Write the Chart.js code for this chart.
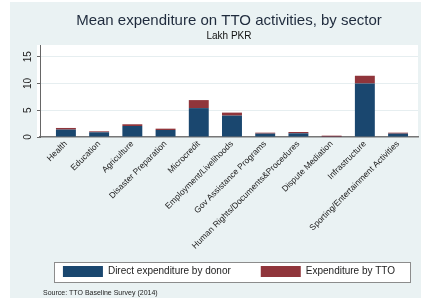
<!DOCTYPE html>
<html>
<head>
<meta charset="utf-8">
<script src="https://cdn.jsdelivr.net/npm/chart.js@4"></script>
<style>
  html, body { margin: 0; padding: 0; background: #fff; }
  #wrap { width: 421px; height: 306px; }
</style>
</head>
<body>
<div id="wrap"><canvas id="c" width="421" height="306"></canvas></div>
<script>
// Data (Lakh PKR)
const categories = [
  'Health', 'Education', 'Agriculture', 'Disaster Preparation', 'Microcredit',
  'Employment/Livelihoods', 'Gov Assistance Programs', 'Human Rights/Documents&Procedures',
  'Dispute Mediation', 'Infrastructure', 'Sporting/Entertainment Activities'
];
const donorValues = [1.38, 0.88, 2.06, 1.31, 5.4, 4.0, 0.63, 0.69, 0.05, 10.0, 0.63];
const ttoValues   = [0.31, 0.18, 0.32, 0.25, 1.5, 0.56, 0.18, 0.25, 0.2, 1.45, 0.18];
const yTicks = [0, 5, 10, 15];
const seriesNames = ['Direct expenditure by donor', 'Expenditure by TTO'];
const sourceNote = 'Source: TTO Baseline Survey (2014)';

const NAVY = '#1a476f';
const MAROON = '#90353b';
const REGION = '#eaf2f3';
const FONT = "'Liberation Sans', Arial, Helvetica, sans-serif";

const toPoints = vals => vals.map((v, i) => ({ x: i, y: v }));

// backgrounds, legend frame, source note
const stataLook = {
  id: 'stataLook',
  afterLayout(chart) {
    const a = chart.chartArea;
    const mid = (a.left + a.right) / 2;
    chart.boxes.forEach(b => {
      if (b === chart.scales.y) return;
      if (b === chart.scales.x) {
        b.bottom = chart.height; // let long rotated labels run past the legend top
      } else if (b === chart.legend) {
        b.left = mid - 210;
        b.right = mid + 210;
      } else {
        b.left = a.left;
        b.right = a.right;
      }
    });
  },
  beforeDraw(chart) {
    const ctx = chart.ctx;
    const a = chart.chartArea;
    ctx.save();
    ctx.fillStyle = '#fff';
    ctx.fillRect(0, 0, chart.width, chart.height);
    ctx.fillStyle = REGION;
    ctx.fillRect(10, 2, chart.width - 10, 296);
    ctx.fillStyle = '#fff';
    ctx.fillRect(a.left - 3, a.top, a.right - a.left + 3, a.bottom - a.top);
    // legend frame
    const lg = chart.legend;
    const mid = (a.left + a.right) / 2 + 3;
    const top = lg.top + lg.options.labels.padding - 4;
    ctx.fillRect(mid - 178, top, 356, 20);
    ctx.strokeStyle = '#8c8c8c';
    ctx.lineWidth = 1;
    ctx.strokeRect(mid - 178 + 0.5, top + 0.5, 356, 20);
    ctx.restore();
  },
  afterDraw(chart) {
    const ctx = chart.ctx;
    ctx.save();
    ctx.fillStyle = '#222';
    ctx.font = '7px ' + FONT;
    ctx.textBaseline = 'middle';
    ctx.fillText(sourceNote, 43, 293);
    ctx.restore();
  }
};

new Chart(document.getElementById('c'), {
  type: 'bar',
  data: {
    datasets: [
      { label: seriesNames[0], data: toPoints(donorValues), backgroundColor: NAVY, borderWidth: 0 },
      { label: seriesNames[1], data: toPoints(ttoValues), backgroundColor: MAROON, borderWidth: 0 }
    ]
  },
  options: {
    responsive: false,
    animation: false,
    devicePixelRatio: 1,
    layout: { padding: { left: 10, right: 3, top: 2, bottom: 19 } },
    datasets: { bar: { categoryPercentage: 1, barPercentage: 0.6 } },
    scales: {
      x: {
        type: 'linear',
        stacked: true,
        offset: false,
        min: -0.78,
        max: 10.6,
        afterBuildTicks: s => { s.ticks = categories.map((_, i) => ({ value: i })); },
        afterFit: s => { s.height = 99; },
        grid: { display: false, drawTicks: false, offset: false },
        border: { color: '#777', width: 1.5 },
        ticks: {
          autoSkip: false,
          minRotation: 45,
          maxRotation: 45,
          padding: 2,
          color: '#222',
          font: { family: FONT, size: 8.5 },
          callback: v => categories[v]
        }
      },
      y: {
        stacked: true,
        min: 0,
        max: 17.2,
        afterBuildTicks: s => { s.ticks = yTicks.map(v => ({ value: v })); },
        afterFit: s => { s.width = 30; },
        grid: { color: '#e6eef0', tickColor: '#666', tickLength: 3 },
        border: { color: '#666', width: 1 },
        ticks: {
          minRotation: 90,
          maxRotation: 90,
          crossAlign: 'center',
          padding: 3.5,
          color: '#222',
          font: { family: FONT, size: 10 }
        }
      }
    },
    plugins: {
      title: {
        display: true,
        text: 'Mean expenditure on TTO activities, by sector',
        color: '#1f2b3d',
        font: { family: FONT, size: 15, weight: 'normal' },
        padding: { top: 10, bottom: 0 }
      },
      subtitle: {
        display: true,
        text: 'Lakh PKR',
        color: '#111',
        font: { family: FONT, size: 10, weight: 'normal' },
        padding: { top: 0, bottom: 3 }
      },
      legend: {
        position: 'bottom',
        labels: {
          boxWidth: 40,
          boxHeight: 11,
          padding: 30,
          color: '#222',
          font: { family: FONT, size: 10 }
        }
      },
      tooltip: { enabled: false }
    }
  },
  plugins: [stataLook]
});
</script>
</body>
</html>
